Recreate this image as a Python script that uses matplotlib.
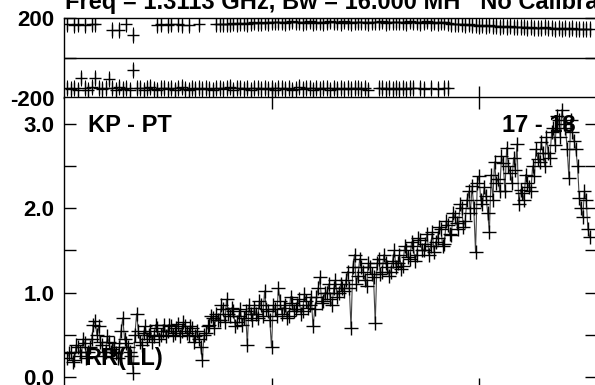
import matplotlib
matplotlib.use('Agg')
import matplotlib.pyplot as plt
import numpy as np

plt.rcParams['font.family'] = ['Liberation Sans', 'DejaVu Sans']
plt.rcParams['font.weight'] = 'bold'

# sample times in minutes from the start of the scan
minutes = list(range(1, 153))

amplitude = [
    0.22, 0.30, 0.20, 0.35, 0.25, 0.40, 0.30, 0.45, 0.66, 0.60,
    0.38, 0.30, 0.42, 0.33, 0.28, 0.36, 0.70, 0.40, 0.30, 0.05,
    0.75, 0.42, 0.52, 0.45, 0.55, 0.48, 0.58, 0.50, 0.62, 0.55,
    0.60, 0.52, 0.63, 0.55, 0.60, 0.50, 0.58, 0.48, 0.45, 0.20,
    0.52, 0.62, 0.70, 0.75, 0.68, 0.80, 0.92, 0.72, 0.78, 0.65,
    0.80, 0.70, 0.38, 0.75, 0.82, 0.70, 0.85, 1.02, 0.78, 0.35,
    0.80, 1.05, 0.75, 0.85, 0.72, 0.88, 0.80, 0.92, 0.78, 0.90,
    0.85, 0.60, 0.95, 1.18, 0.90, 1.00, 0.92, 1.05, 0.95, 1.10,
    1.02, 1.25, 0.58, 1.45, 1.20, 1.30, 1.15, 1.35, 1.22, 0.64,
    1.40, 1.25, 1.35, 1.20, 1.38, 1.30, 1.45, 1.32, 1.50, 1.40,
    1.55, 1.45, 1.62, 1.50, 1.70, 1.55, 1.48, 1.65, 1.75, 1.58,
    1.80, 1.68, 1.90, 1.75, 2.00, 1.85, 2.20, 2.26, 1.48, 2.38,
    2.05, 2.15, 1.72, 2.10, 2.30, 2.20, 2.54, 2.72, 2.42, 2.60,
    2.76, 2.22, 2.10, 2.30, 2.20, 2.38, 2.58, 2.79, 2.50, 2.66,
    2.90, 2.75, 3.05, 3.17, 2.95, 2.36, 2.90, 2.70, 2.12, 1.90,
    2.10, 1.66,
]

# records half a minute later
half_minutes = [m + 0.5 for m in range(1, 152)]
half_amplitude = [
    0.28, 0.18, 0.38, 0.30, 0.45, 0.22, 0.35, 0.62, 0.50, 0.42,
    0.25, 0.48, 0.30, 0.40, 0.22, 0.55, 0.45, 0.35, 0.25, 0.50,
    0.55, 0.38, 0.60, 0.50, 0.42, 0.62, 0.45, 0.55, 0.48, 0.62,
    0.50, 0.58, 0.48, 0.65, 0.52, 0.60, 0.42, 0.55, 0.35, 0.50,
    0.60, 0.72, 0.58, 0.68, 0.85, 0.65, 0.75, 0.82, 0.60, 0.72,
    0.62, 0.78, 0.85, 0.68, 0.75, 0.90, 0.72, 0.80, 0.68, 0.85,
    0.72, 0.90, 0.82, 0.70, 0.95, 0.78, 0.85, 0.75, 0.98, 0.82,
    0.95, 0.80, 1.05, 0.88, 1.00, 1.10, 0.85, 1.15, 1.00, 1.05,
    1.15, 1.05, 1.30, 1.10, 1.40, 1.25, 1.08, 1.30, 1.18, 1.35,
    1.22, 1.45, 1.30, 1.25, 1.50, 1.35, 1.28, 1.55, 1.42, 1.60,
    1.38, 1.65, 1.50, 1.58, 1.45, 1.72, 1.60, 1.78, 1.55, 1.85,
    1.70, 1.95, 1.82, 2.05, 1.78, 2.10, 1.95, 2.00, 2.30, 2.10,
    2.25, 1.95, 2.40, 2.55, 2.35, 2.62, 2.20, 2.50, 2.30, 2.45,
    2.05, 2.18, 2.40, 2.25, 2.50, 2.70, 2.55, 2.65, 2.85, 2.60,
    2.95, 3.10, 2.85, 3.00, 2.70, 3.05, 2.80, 2.50, 2.00, 2.20,
    1.75,
]

phase = [
    -150, -155, -148, -158, -100, -152, -160, -145, -100, -150,
    -155, -148, -105, -152, -160, -147, -155, -150, -158, -60,
    -152, -148, -158, -150, -145, -155, -160, -150, -148, -155,
    -152, -158, -150, -147, -155, -160, -150, -153, -148, -157,
    -150, -155, -160, -148, -152, -156, -150, -145, -158, -152,
    -150, -155, -148, -160, -152, -150, -157, -148, -155, -150,
    -158, -152, -148, -155, -150, -160, -153, -147, -155, -150,
    -152, -158, -150, -155, -148, -152, -160, -150, -155, -148,
    -153, -150, -157, -152, -148, -155, -150, -158, 178, 182,
    -152, -150, -155, -148, -153, -150, -157,
    180, 176, 183, 178, 181, 175, 179, 184, 177, 180, 174, 182, 178,
    176, 172, 170, 168, 171, 165, 168, 163, 166, 162,
    165, 160, 163, 158, 161, 157, 160, 155, 158, 154,
    157, 153, 155, 151, 154, 150, 152, 149, 153, 148,
    151, 147, 150, 146, 149, 145, 148, 144, 147, 143, 146, 145,
]

# second branch of the wrapped phase (points on the other side of +-180)
extra_minutes = [1, 3, 4, 6, 8, 9, 14, 16, 18, 20, 27, 28, 30, 31, 33, 34, 36, 39, 44,
                 45, 46, 47, 48, 49, 50, 51, 52, 53, 54, 55, 56, 57, 58, 59, 60, 61,
                 62, 63, 64, 65, 66, 67, 68, 69, 70, 71, 72, 73, 74, 75, 76, 77, 78,
                 79, 80, 81, 82, 83, 84, 85, 86, 87, 88, 91, 92, 93, 94, 95, 96, 97,
                 98, 99, 100, 101, 103, 104, 106, 108, 110, 111]
extra_phase = [168, 165, 170, 166, 168, 171, 140, 138, 168, 115, 166, 170, 164, 168, 172,
               167, 165, 170, 168,
               170, 172, 168, 171, 174, 170, 173, 176, 172, 175,
               178, 174, 177, 180, 176, 179, 182, 178, 181, 177,
               180, 183, 178, 181, 176, 180, 183, 177, 179, 182,
               176, 180, 184, 178, 181, 177, 183, 179, 176, 182,
               180, 178, 181, 177,
               179, 183, 176, 180, 182, 178, 181,
               -150, -155, -148, -152, -150, -157, -150, -153, -148, -152]
phase_err = 40

title = 'Freq = 1.3113 GHz, Bw = 16.000 MH   No Calibra'
baseline_label = 'KP - PT'
antenna_label = '17 - 18'
stokes_label = 'RR(LL)'

W, H = 595, 385
fig = plt.figure(figsize=(W / 100, H / 100), dpi=100)
ax_ph = fig.add_axes([64 / W, 1 - 98 / H, 533 / W, 80 / H])
ax_am = fig.add_axes([64 / W, -5 / H, 533 / W, 293 / H])

t = np.array(minutes) / 60.0
te = np.array(extra_minutes) / 60.0
xmax = 533 / 207.5

# all amplitude records in time order
t_all = np.concatenate([t, np.array(half_minutes) / 60.0])
a_all = np.concatenate([amplitude, half_amplitude])
order = np.argsort(t_all)
t_all, a_all = t_all[order], a_all[order]

# phase panel
ax_ph.errorbar(t, phase, yerr=phase_err, fmt='+', color='black', ms=9,
               mew=1.0, elinewidth=0.8, capsize=0)
ax_ph.errorbar(te, extra_phase, yerr=phase_err, fmt='+', color='black', ms=9,
               mew=1.0, elinewidth=0.8, capsize=0)
ax_ph.axhline(0, color='black', lw=1)
ax_ph.set_xlim(0, xmax)
ax_ph.set_ylim(-200, 200)
ax_ph.set_yticks([-200, 0, 200])
ax_ph.set_yticklabels(['-200', '', '200'])
ax_ph.set_xticks([1, 2])
ax_ph.tick_params(axis='both', direction='in', length=8.6, width=1,
                  labelsize=16, pad=7, right=True)
ax_ph.tick_params(axis='x', labelbottom=False)

# amplitude panel
ax_am.plot(t_all, a_all, '-', color='#444444', lw=0.8)
ax_am.plot(t_all, a_all, '+', color='black', ms=9.5, mew=1.0)
ax_am.set_xlim(0, xmax)
ax_am.set_ylim(-0.155, 3.32)
ax_am.set_yticks([0, 1, 2, 3])
ax_am.set_yticklabels(['0.0', '1.0', '2.0', '3.0'])
ax_am.set_yticks([0.5, 1.5, 2.5], minor=True)
ax_am.set_xticks([1, 2])
ax_am.tick_params(axis='both', which='both', direction='in', length=8.6,
                  width=1, labelsize=16, pad=7, right=True, top=True)
ax_am.tick_params(axis='x', labelbottom=False)

for ax in (ax_ph, ax_am):
    for s in ax.spines.values():
        s.set_linewidth(1)

fig.text(65 / W, 1 - 8.5 / H, title, fontsize=17, fontweight='bold',
         ha='left', va='baseline')
fig.text(88 / W, 1 - 132 / H, baseline_label, fontsize=17, fontweight='bold',
         ha='left', va='baseline')
fig.text(576 / W, 1 - 132 / H, antenna_label, fontsize=17, fontweight='bold',
         ha='right', va='baseline')
fig.text(163 / W, 1 - 365 / H, stokes_label, fontsize=17, fontweight='bold',
         ha='right', va='baseline')

fig.savefig('out.png', dpi=100)
